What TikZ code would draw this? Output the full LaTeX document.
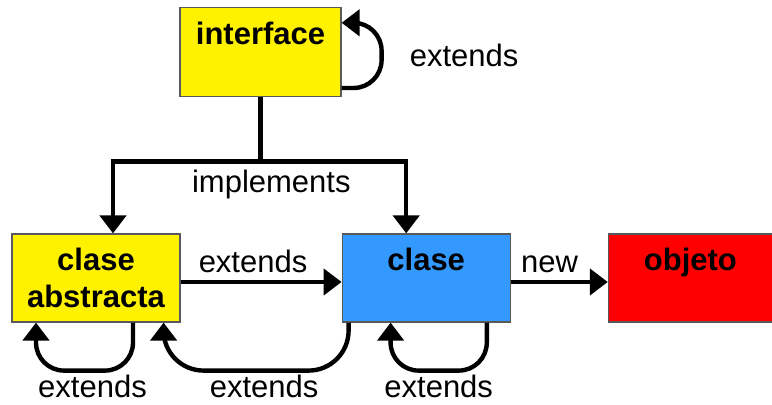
\documentclass[tikz,border=0pt]{standalone}
\usepackage{fontspec}
\setmainfont{Liberation Sans}
\usetikzlibrary{positioning,arrows.meta}

\definecolor{claseblue}{HTML}{3399FF}

\begin{document}
\begin{tikzpicture}[->,>={Triangle[length=9pt,width=13pt]},line width=2.2pt,
		font=\fontsize{15.5}{18.5}\selectfont,
		class box/.style={rectangle,draw=black!65,line width=0.6pt,inner sep=0pt,
			text height=18.5pt,text depth=25.5pt,align=center,
			font=\fontsize{15.5}{18.5}\selectfont\bfseries},
		loop edge/.style={rounded corners=14pt},
		edge label/.style={inner sep=1pt}]

	\useasboundingbox (-48pt,-63.5pt) rectangle (338pt,139pt);

	\node[class box, fill=yellow, text width=84pt] (abs) at (0,0) {clase\\abstracta};
	\node[class box, fill=claseblue, text width=84pt, right=80.5pt of abs] (cls) {clase};
	\node[class box, fill=red, text width=82pt, right=48.5pt of cls] (obj) {objeto};
	\coordinate (mid) at (82.25pt,22pt);
	\node[class box, fill=yellow, text width=80.5pt, text depth=26pt, above=68.5pt of mid] (int) {interface};

	% implements
	\coordinate (ja) at ([xshift=8.5pt,yshift=36pt]abs.north);
	\coordinate (jc) at ([xshift=-10pt,yshift=36pt]cls.north);
	\draw (int.south) |- (ja) -- (ja |- abs.north);
	\draw (int.south) |- (jc) -- (jc |- cls.north);
	\path[-] (ja) -- node[below, inner sep=3pt, pos=0.54] {implements} (jc);

	\draw ([yshift=-2pt]abs.east) -- node[above, pos=0.45] {extends} ([yshift=-2pt]cls.west);
	\draw ([yshift=-2pt]cls.east) -- node[above, pos=0.4] {new} ([yshift=-2pt]obj.west);

	% extends loops
	\draw[loop edge] ([yshift=4.5pt]int.south east) -| node[right=13pt, pos=0.75, inner sep=0pt] {extends}
		([xshift=20pt,yshift=-8pt]int.north east) -- ([yshift=-8pt]int.north east);
	\draw[loop edge] ([xshift=18.5pt]abs.south) |- node[below, pos=0.75, edge label, xshift=4pt] {extends}
		([xshift=-30pt,yshift=-24pt]abs.south) -- ([xshift=-30pt]abs.south);
	\draw[loop edge, rounded corners=20pt] ([xshift=3.5pt]cls.south west) |- node[below, pos=0.75, edge label, xshift=4pt] {extends}
		([xshift=-8.5pt,yshift=-24pt]abs.south east) -- ([xshift=-8.5pt]abs.south east);
	\draw[loop edge] ([xshift=-12pt]cls.south east) |- node[below, pos=0.75, edge label] {extends}
		([xshift=24.5pt,yshift=-24pt]cls.south west) -- ([xshift=24.5pt]cls.south west);
\end{tikzpicture}
\end{document}
